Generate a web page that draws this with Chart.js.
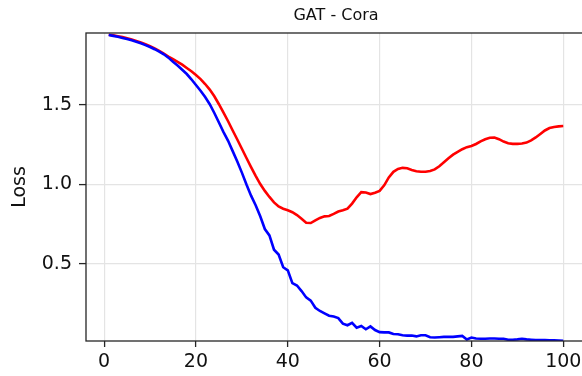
<!DOCTYPE html>
<html>
<head>
<meta charset="utf-8">
<script src="https://cdn.jsdelivr.net/npm/chart.js@4/dist/chart.umd.min.js"></script>
<style>
  html, body { margin: 0; padding: 0; background: #fff; overflow: hidden; }
  #wrap { width: 590px; height: 376px; }
</style>
</head>
<body>
<div id="wrap"><canvas id="c" width="590" height="376"></canvas></div>
<script>
// Training epochs
const epochs = [1,2,3,4,5,6,7,8,9,10,11,12,13,14,15,16,17,18,19,20,
  21,22,23,24,25,26,27,28,29,30,31,32,33,34,35,36,37,38,39,40,
  41,42,43,44,45,46,47,48,49,50,51,52,53,54,55,56,57,58,59,60,
  61,62,63,64,65,66,67,68,69,70,71,72,73,74,75,76,77,78,79,80,
  81,82,83,84,85,86,87,88,89,90,91,92,93,94,95,96,97,98,99,100];

// Training loss per epoch
const trainLoss = [1.940,1.935,1.929,1.922,1.915,1.907,1.898,1.888,1.877,1.865,
  1.851,1.836,1.819,1.798,1.772,1.748,1.722,1.695,1.662,1.626,
  1.590,1.550,1.505,1.450,1.390,1.330,1.275,1.210,1.145,1.075,
  1.000,0.930,0.870,0.800,0.720,0.680,0.590,0.560,0.480,0.460,
  0.380,0.365,0.330,0.290,0.270,0.225,0.205,0.190,0.175,0.170,
  0.160,0.125,0.115,0.130,0.100,0.110,0.090,0.108,0.085,0.072,
  0.070,0.070,0.060,0.058,0.052,0.050,0.050,0.045,0.052,0.052,
  0.040,0.038,0.040,0.042,0.042,0.042,0.045,0.048,0.026,0.038,
  0.032,0.030,0.030,0.032,0.032,0.030,0.030,0.024,0.024,0.026,
  0.030,0.026,0.024,0.022,0.022,0.022,0.020,0.020,0.019,0.018];

// Validation loss per epoch
const valLoss = [1.942,1.938,1.933,1.927,1.920,1.912,1.903,1.893,1.882,1.870,
  1.856,1.840,1.823,1.805,1.788,1.771,1.754,1.733,1.712,1.689,
  1.663,1.632,1.597,1.555,1.505,1.452,1.398,1.340,1.283,1.225,
  1.167,1.110,1.055,1.003,0.960,0.922,0.888,0.862,0.848,0.838,
  0.826,0.808,0.785,0.760,0.758,0.775,0.790,0.800,0.802,0.815,
  0.830,0.838,0.848,0.880,0.920,0.952,0.950,0.940,0.948,0.960,
  0.995,1.045,1.080,1.098,1.105,1.102,1.092,1.084,1.080,1.080,
  1.085,1.095,1.115,1.140,1.165,1.188,1.205,1.222,1.235,1.242,
  1.255,1.272,1.285,1.294,1.296,1.285,1.270,1.260,1.256,1.256,
  1.258,1.264,1.278,1.296,1.318,1.340,1.355,1.362,1.366,1.368];

const xTicks = [0, 20, 40, 60, 80, 100];
const yTicks = [0.5, 1.0, 1.5];

const FONT = '"DejaVu Sans", "Liberation Sans", sans-serif';
const SPINE = '#262626';

const toPoints = vals => epochs.map((e, i) => ({ x: e, y: vals[i] }));

// Box frame around the plotting area
const frame = {
  id: 'frame',
  afterDraw(chart) {
    const { ctx, chartArea: a } = chart;
    ctx.save();
    ctx.strokeStyle = SPINE;
    ctx.lineWidth = 1.3;
    ctx.strokeRect(a.left, a.top, a.right - a.left, a.bottom - a.top);
    ctx.restore();
  }
};

new Chart(document.getElementById('c'), {
  type: 'line',
  data: {
    datasets: [
      { label: 'Train', data: toPoints(trainLoss), borderColor: '#0000ff',
        borderWidth: 2.6, pointRadius: 0, tension: 0, fill: false },
      { label: 'Validation', data: toPoints(valLoss), borderColor: '#ff0000',
        borderWidth: 2.6, pointRadius: 0, tension: 0, fill: false }
    ]
  },
  options: {
    responsive: false,
    animation: false,
    devicePixelRatio: 1,
    layout: { padding: { left: 0, right: 4, top: 0, bottom: 0 } },
    plugins: {
      legend: { display: false },
      tooltip: { enabled: false },
      title: {
        display: true,
        text: 'GAT - Cora',
        fullSize: false,
        color: '#111',
        font: { family: FONT, size: 16, weight: 'normal', lineHeight: 1.2 },
        padding: { top: 6, bottom: 7.8 }
      }
    },
    scales: {
      x: {
        type: 'linear',
        min: -3.95,
        max: 104.95,
        afterBuildTicks: s => { s.ticks = xTicks.map(v => ({ value: v })); },
        afterFit: s => { s.height = 35; },
        border: { display: false },
        grid: { color: '#e4e4e4', lineWidth: 1.2, tickColor: SPINE, tickWidth: 1.3, tickLength: 6 },
        ticks: { color: '#111', font: { family: FONT, size: 19 }, padding: 4,
          maxRotation: 0, callback: v => String(v) }
      },
      y: {
        type: 'linear',
        min: 0.016,
        max: 1.953,
        afterBuildTicks: s => { s.ticks = yTicks.map(v => ({ value: v })); },
        afterFit: s => { s.width = 86; },
        border: { display: false },
        grid: { color: '#e4e4e4', lineWidth: 1.2, tickColor: SPINE, tickWidth: 1.3, tickLength: 7 },
        ticks: { color: '#111', font: { family: FONT, size: 19 }, padding: 7,
          callback: v => Number(v).toFixed(1) },
        title: { display: true, text: 'Loss', color: '#111',
          font: { family: FONT, size: 19 }, padding: { top: 9, bottom: 0 } }
      }
    }
  },
  plugins: [frame]
});
</script>
</body>
</html>
